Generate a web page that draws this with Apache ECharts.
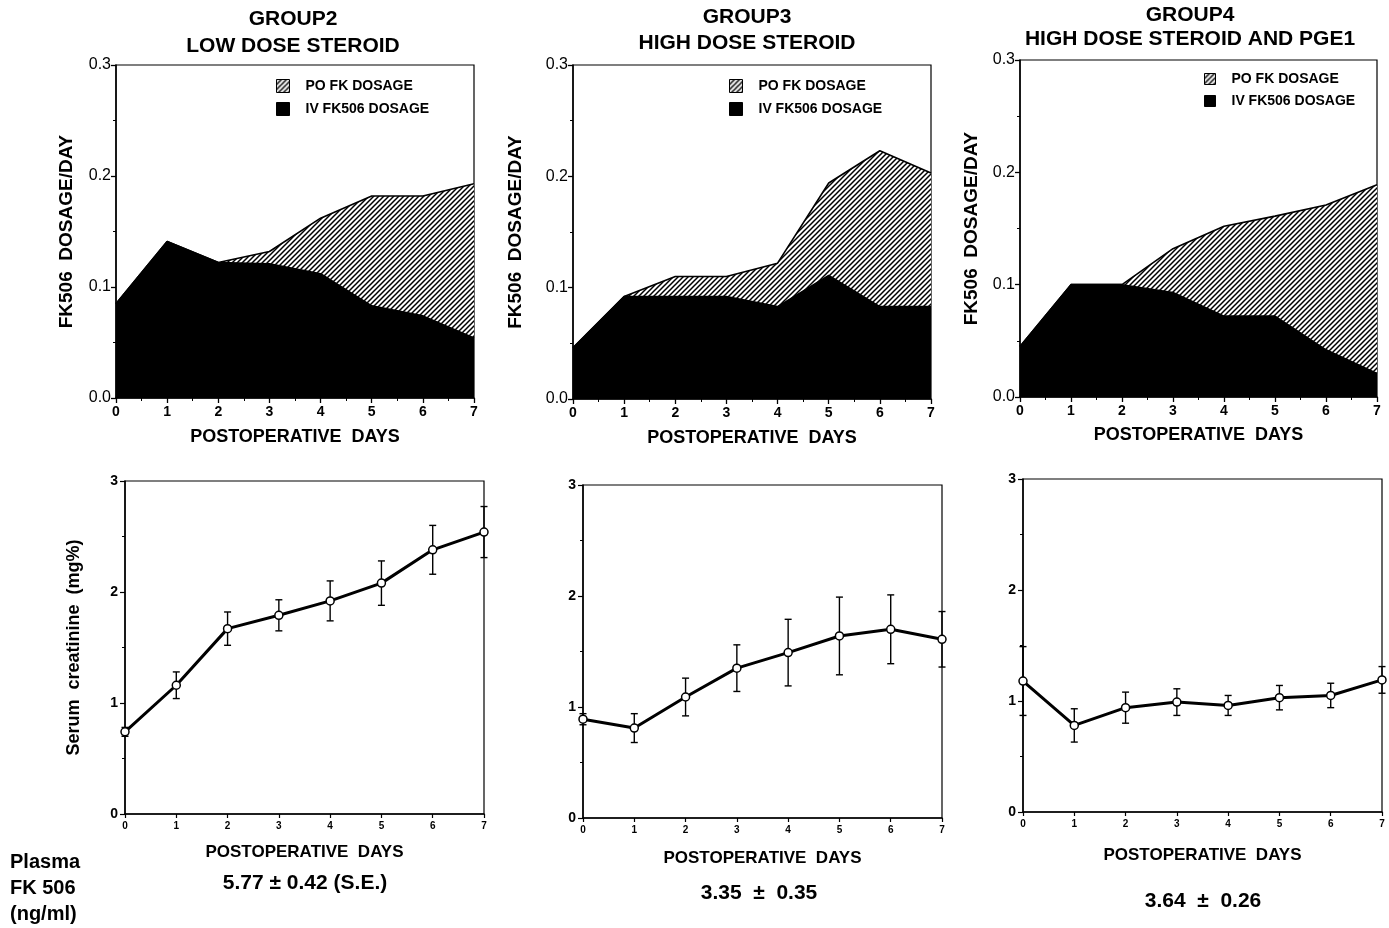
<!DOCTYPE html>
<html><head><meta charset="utf-8">
<script src="https://cdn.jsdelivr.net/npm/echarts@6/dist/echarts.min.js"></script>
<style>html,body{margin:0;padding:0;background:#fff}#c{width:1389px;height:928px}</style>
</head><body><div id="c"></div>
<script>
// ---- data ----
const days = [0, 1, 2, 3, 4, 5, 6, 7];
const g2IV = [0.085, 0.141, 0.122, 0.121, 0.112, 0.083, 0.074, 0.054];
const g2PO = [0, 0, 0, 0.011, 0.050, 0.099, 0.108, 0.139];
const g3IV = [0.046, 0.092, 0.092, 0.092, 0.083, 0.111, 0.083, 0.083];
const g3PO = [0, 0, 0.018, 0.018, 0.039, 0.083, 0.140, 0.120];
const g4IV = [0.045, 0.100, 0.100, 0.093, 0.072, 0.072, 0.042, 0.021];
const g4PO = [0, 0, 0, 0.039, 0.080, 0.089, 0.129, 0.168];
const g2Cr = [0.74, 1.16, 1.67, 1.79, 1.92, 2.08, 2.38, 2.54];
const g2Err = [0.04, 0.12, 0.15, 0.14, 0.18, 0.20, 0.22, 0.23];
const g3Cr = [0.89, 0.81, 1.09, 1.35, 1.49, 1.64, 1.70, 1.61];
const g3Err = [0.05, 0.13, 0.17, 0.21, 0.30, 0.35, 0.31, 0.25];
const g4Cr = [1.18, 0.78, 0.94, 0.99, 0.96, 1.03, 1.05, 1.19];
const g4Err = [0.31, 0.15, 0.14, 0.12, 0.09, 0.11, 0.11, 0.12];
const groupTitles = ['GROUP2\nLOW DOSE STEROID', 'GROUP3\nHIGH DOSE STEROID', 'GROUP4\nHIGH DOSE STEROID AND PGE1'];
const legendNames = ['PO FK DOSAGE', 'IV FK506 DOSAGE'];
const plasmaValues = ['5.77 ± 0.42 (S.E.)', '3.35  ±  0.35', '3.64  ±  0.26'];
const plasmaLabel = 'Plasma\nFK 506\n(ng/ml)';

// ---- hatch pattern ----
const pc = document.createElement('canvas');
pc.width = 5; pc.height = 5;
const ctx = pc.getContext('2d');
ctx.fillStyle = '#fff'; ctx.fillRect(0, 0, 5, 5);
ctx.strokeStyle = '#000'; ctx.lineWidth = 1.5;
ctx.beginPath();
ctx.moveTo(-1, 6); ctx.lineTo(6, -1);
ctx.moveTo(-1, 1); ctx.lineTo(1, -1);
ctx.moveTo(4, 6); ctx.lineTo(6, 4);
ctx.stroke();
const hatch = { image: pc, repeat: 'repeat' };

const FONT = "'Liberation Sans', Arial, sans-serif";
const NARROW = "'Liberation Sans Narrow', 'Liberation Sans', Arial, sans-serif";

const topGrids = [
  { left: 116, top: 65, width: 358, height: 333 },
  { left: 573, top: 65, width: 358, height: 334 },
  { left: 1020, top: 60, width: 357, height: 337 }
];
const botGrids = [
  { left: 125, top: 481, width: 359, height: 333 },
  { left: 583, top: 485, width: 359, height: 333 },
  { left: 1023, top: 479, width: 359, height: 333 }
];
const topYGap = [40, 48, 39];
const topXGap = [30, 30, 29];
const botXGap = [30, 32, 35];
const titleCfg = [
  { x: 293, y: 6, lh: 27 },
  { x: 747, y: 4, lh: 26 },
  { x: 1190, y: 3, lh: 24 }
];
const legendCfg = [
  { left: 276, top: 79, size: 13, gap: 9 },
  { left: 729, top: 79, size: 13, gap: 9 },
  { left: 1204, top: 72, size: 11, gap: 8 }
];
const plasmaCfg = [
  { x: 305, y: 873 },
  { x: 759, y: 883 },
  { x: 1203, y: 891 }
];

const ivSets = [g2IV, g3IV, g4IV];
const poSets = [g2PO, g3PO, g4PO];
const crSets = [g2Cr, g3Cr, g4Cr];
const errSets = [g2Err, g3Err, g4Err];

const grids = [], xAxes = [], yAxes = [], series = [], legends = [], titles = [];

const axisLineStyle = { color: '#000', width: 1.5 };

for (let g = 0; g < 3; g++) {
  grids.push(Object.assign({ show: true, borderColor: '#000', borderWidth: 1.2, containLabel: false }, topGrids[g]));
  xAxes.push({
    gridIndex: g, type: 'value', min: 0, max: 7, interval: 1,
    name: 'POSTOPERATIVE  DAYS', nameLocation: 'middle', nameGap: topXGap[g],
    nameTextStyle: { fontFamily: FONT, fontWeight: 'bold', fontSize: 18, color: '#000' },
    axisLine: { show: true, lineStyle: axisLineStyle },
    axisTick: { show: true, length: 5, lineStyle: { color: '#000', width: 1.3 } },
    minorTick: { show: true, splitNumber: 2, length: 3, lineStyle: { color: '#000', width: 1 } },
    splitLine: { show: false },
    axisLabel: { fontFamily: FONT, fontWeight: 'bold', fontSize: 14, color: '#000', margin: 7 }
  });
  yAxes.push({
    gridIndex: g, type: 'value', min: 0, max: 0.3, interval: 0.1,
    name: 'FK506  DOSAGE/DAY', nameLocation: 'middle', nameGap: topYGap[g], nameRotate: 90,
    nameTextStyle: { fontFamily: FONT, fontWeight: 'bold', fontSize: 19, color: '#000' },
    axisLine: { show: true, lineStyle: axisLineStyle },
    axisTick: { show: true, length: 5, lineStyle: { color: '#000', width: 1.3 } },
    minorTick: { show: true, splitNumber: 2, length: 3, lineStyle: { color: '#000', width: 1 } },
    splitLine: { show: false },
    axisLabel: { fontFamily: FONT, fontSize: 16, color: '#000', margin: 5, formatter: v => v.toFixed(1) }
  });
  const iv = ivSets[g], po = poSets[g];
  series.push({
    name: legendNames[0], type: 'line', xAxisIndex: g, yAxisIndex: g,
    data: days.map((d, i) => [d, iv[i] + po[i]]),
    showSymbol: false, symbol: 'none', z: 2,
    itemStyle: { color: hatch },
    lineStyle: { color: '#000', width: 1.6 },
    areaStyle: { color: hatch, opacity: 1 },
    silent: true
  });
  series.push({
    name: legendNames[1], type: 'line', xAxisIndex: g, yAxisIndex: g,
    data: days.map((d, i) => [d, iv[i]]),
    showSymbol: false, symbol: 'none', z: 3,
    itemStyle: { color: '#000' },
    lineStyle: { color: '#000', width: 1.6 },
    areaStyle: { color: '#000', opacity: 1 },
    silent: true
  });
  const lc = legendCfg[g];
  legends.push({
    data: legendNames, orient: 'vertical', left: lc.left, top: lc.top,
    icon: 'rect', itemWidth: lc.size, itemHeight: lc.size, itemGap: lc.gap,
    padding: 0, selectedMode: false,
    itemStyle: { borderColor: '#000', borderWidth: 1 },
    textStyle: { fontFamily: FONT, fontWeight: 'bold', fontSize: 14, color: '#000', padding: [0, 0, 0, 11] }
  });
  const tc = titleCfg[g];
  titles.push({
    text: groupTitles[g], left: tc.x, top: tc.y, textAlign: 'center', padding: 0,
    textStyle: { fontFamily: FONT, fontWeight: 'bold', fontSize: 21, lineHeight: tc.lh, color: '#000' }
  });
}

for (let g = 0; g < 3; g++) {
  const gi = 3 + g;
  grids.push(Object.assign({ show: true, borderColor: '#000', borderWidth: 1.2 }, botGrids[g]));
  xAxes.push({
    gridIndex: gi, type: 'value', min: 0, max: 7, interval: 1,
    name: 'POSTOPERATIVE  DAYS', nameLocation: 'middle', nameGap: botXGap[g],
    nameTextStyle: { fontFamily: NARROW, fontWeight: 'bold', fontSize: 17, color: '#000' },
    axisLine: { show: true, lineStyle: axisLineStyle },
    axisTick: { show: true, length: 4, lineStyle: { color: '#000', width: 1.2 } },
    splitLine: { show: false },
    axisLabel: { fontFamily: FONT, fontWeight: 'bold', fontSize: 10, color: '#000', margin: 7 }
  });
  yAxes.push({
    gridIndex: gi, type: 'value', min: 0, max: 3, interval: 1,
    name: g === 0 ? 'Serum  creatinine  (mg%)' : '', nameLocation: 'middle', nameGap: 42, nameRotate: 90,
    nameTextStyle: { fontFamily: FONT, fontWeight: 'bold', fontSize: 18, color: '#000' },
    axisLine: { show: true, lineStyle: axisLineStyle },
    axisTick: { show: true, length: 5, lineStyle: { color: '#000', width: 1.2 } },
    minorTick: { show: true, splitNumber: 2, length: 3, lineStyle: { color: '#000', width: 1 } },
    splitLine: { show: false },
    axisLabel: { fontFamily: FONT, fontWeight: 'bold', fontSize: 14, color: '#000', margin: 7 }
  });
  const cr = crSets[g], er = errSets[g];
  series.push({
    type: 'custom', xAxisIndex: gi, yAxisIndex: gi, z: 2, silent: true,
    data: days.map((d, i) => [d, cr[i], er[i]]),
    renderItem: function (params, api) {
      const x = api.value(0), y = api.value(1), e = api.value(2);
      const t = api.coord([x, y + e]), b = api.coord([x, y - e]);
      const w = 3.5, st = { stroke: '#000', lineWidth: 1.4 };
      return {
        type: 'group', children: [
          { type: 'line', shape: { x1: t[0], y1: t[1], x2: b[0], y2: b[1] }, style: st },
          { type: 'line', shape: { x1: t[0] - w, y1: t[1], x2: t[0] + w, y2: t[1] }, style: st },
          { type: 'line', shape: { x1: b[0] - w, y1: b[1], x2: b[0] + w, y2: b[1] }, style: st }
        ]
      };
    }
  });
  series.push({
    type: 'line', xAxisIndex: gi, yAxisIndex: gi, z: 3, silent: true,
    data: days.map((d, i) => [d, cr[i]]),
    symbol: 'circle', symbolSize: 8, showSymbol: true,
    lineStyle: { color: '#000', width: 3 },
    itemStyle: { color: '#fff', borderColor: '#000', borderWidth: 1.5 }
  });
  const pcf = plasmaCfg[g];
  titles.push({
    text: plasmaValues[g], left: pcf.x, top: pcf.y, textAlign: 'center', padding: 0,
    textStyle: { fontFamily: NARROW, fontWeight: 'bold', fontSize: 21, color: '#000' }
  });
}
titles.push({
  text: plasmaLabel, left: 10, top: 849, padding: 0,
  textStyle: { fontFamily: NARROW, fontWeight: 'bold', fontSize: 20, lineHeight: 26, color: '#000' }
});

const chart = echarts.init(document.getElementById('c'), null, { renderer: 'canvas' });
chart.setOption({
  backgroundColor: '#fff',
  animation: false,
  title: titles,
  legend: legends,
  grid: grids,
  xAxis: xAxes,
  yAxis: yAxes,
  series: series
});
</script>
</body></html>
